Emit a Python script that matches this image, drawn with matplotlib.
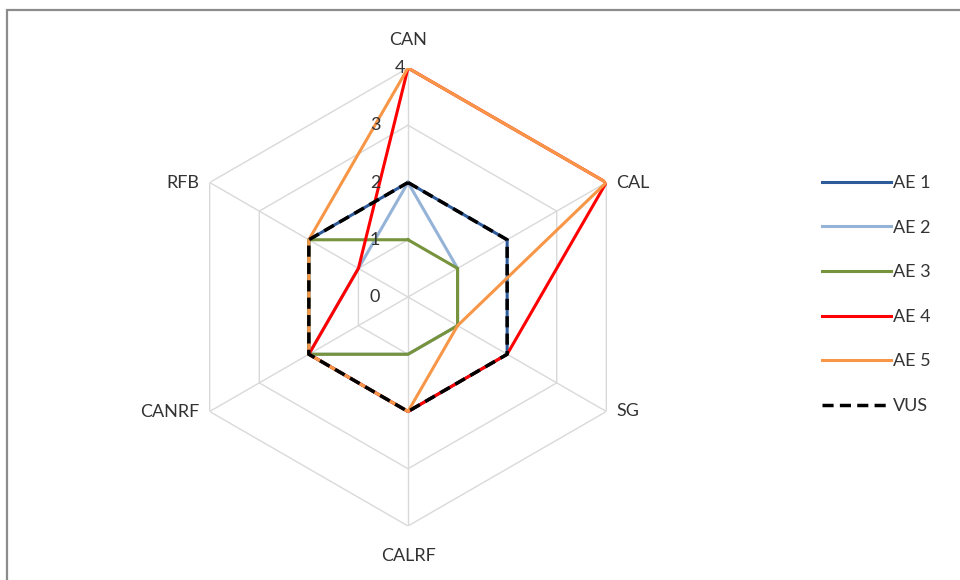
import numpy as np
import matplotlib
matplotlib.use("Agg")
import matplotlib.pyplot as plt
from matplotlib.patches import Rectangle

categories = ["CAN", "CAL", "SG", "CALRF", "CANRF", "RFB"]
ae1 = [2, 2, 2, 2, 2, 2]
ae2 = [2, 1, 1, 1, 2, 1]
ae3 = [1, 1, 1, 1, 2, 2]
ae4 = [4, 4, 2, 2, 2, 1]
ae5 = [4, 4, 1, 2, 2, 2]
vus = [2, 2, 2, 2, 2, 2]
series_names = ["AE 1", "AE 2", "AE 3", "AE 4", "AE 5", "VUS"]
radial_ticks = [0, 1, 2, 3, 4]

plt.rcParams['font.family'] = ['Lato', 'DejaVu Sans']

fig = plt.figure(figsize=(9.6, 5.8), dpi=100)
fig.patch.set_facecolor('white')
# outer chart frame
fig.add_artist(Rectangle((7/960, -0.01), 1.0, 1 - 10/580 + 0.01, transform=fig.transFigure,
                         fill=False, edgecolor='#8c8c8c', lw=1.6))

cx, cy, R = 408, 297, 229
ax = fig.add_axes([(cx - R)/960, (580 - cy - R)/580, 2*R/960, 2*R/580], projection='polar')
ax.set_theta_offset(np.pi/2)
ax.set_theta_direction(-1)
ax.set_ylim(0, 4)
ax.grid(False)
ax.spines['polar'].set_visible(False)
ax.set_xticks([])
ax.set_yticks([])
ax.patch.set_alpha(0)

n = len(categories)
theta = np.arange(n) * 2*np.pi/n
theta_c = np.append(theta, theta[0])

grid_col = '#d9d9d9'
for r in radial_ticks[1:]:
    ax.plot(theta_c, [r]*(n+1), color=grid_col, lw=1, zorder=1)
for t in theta:
    ax.plot([t, t], [0, 4], color=grid_col, lw=1, zorder=1)

def closed(v):
    return np.append(v, v[0])

styles = [
    (ae1, '#2E5B9A', '-'),
    (ae2, '#95B3D7', '-'),
    (ae3, '#77933C', '-'),
    (ae4, '#FF0000', '-'),
    (ae5, '#F79646', '-'),
]
lines = []
for (vals, col, ls), name in zip(styles, series_names[:5]):
    l, = ax.plot(theta_c, closed(vals), color=col, lw=2.2, ls=ls, label=name, zorder=3)
    lines.append(l)
l, = ax.plot(theta_c, closed(vus), color='black', lw=2.5, ls=(0, (3.2, 1.8)), label='VUS', zorder=4)
lines.append(l)

txt_col = '#333333'
fs = 13
# category labels
offsets = {"CAN": (0, 28, 'center', 'center'),
           "CAL": (10, 0, 'left', 'center'),
           "SG": (10, 0, 'left', 'center'),
           "CALRF": (0, -30, 'center', 'center'),
           "CANRF": (-10, 0, 'right', 'center'),
           "RFB": (-10, 0, 'right', 'center')}
for t, c in zip(theta, categories):
    dx, dy, ha, va = offsets[c]
    ax.annotate(c, xy=(t, 4), xytext=(dx, dy), textcoords='offset pixels',
                ha=ha, va=va, fontsize=fs, color=txt_col, annotation_clip=False)

# radial tick labels
for r in radial_ticks:
    dx = -8 if r == 4 else -33
    ax.annotate(str(r), xy=(0, r), xytext=(dx, 0), textcoords='offset pixels',
                ha='center', va='center', fontsize=fs, color=txt_col, annotation_clip=False)

leg = fig.legend(handles=lines, labels=series_names, loc='upper left',
                 bbox_to_anchor=(806/960, 1 - 159/580), frameon=False,
                 fontsize=fs, labelspacing=1.58, handlelength=3.8, handletextpad=0.1)
for t in leg.get_texts():
    t.set_color(txt_col)

fig.savefig('out.png', dpi=100, facecolor='white')
